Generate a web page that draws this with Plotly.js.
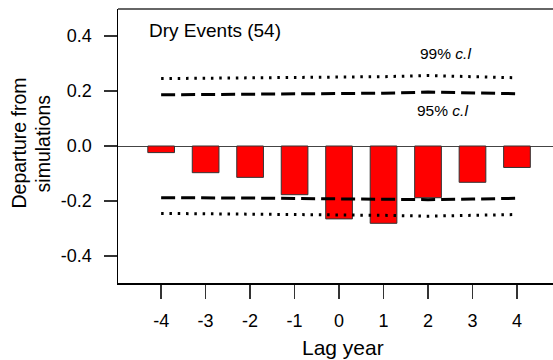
<!DOCTYPE html>
<html>
<head>
<meta charset="utf-8">
<script src="https://cdn.plot.ly/plotly-3.0.1.min.js"></script>
<style>html,body{margin:0;padding:0;background:#fff;}#chart{width:553px;height:360px;}</style>
</head>
<body>
<div id="chart"></div>
<script>
const lags = [-4, -3, -2, -1, 0, 1, 2, 3, 4];
const departure = [-0.024, -0.097, -0.114, -0.177, -0.265, -0.281, -0.188, -0.132, -0.078];
const upper99 = [0.245, 0.246, 0.247, 0.250, 0.250, 0.252, 0.256, 0.252, 0.248];
const upper95 = [0.186, 0.187, 0.188, 0.189, 0.190, 0.192, 0.196, 0.193, 0.190];
const lower95 = [-0.188, -0.188, -0.189, -0.191, -0.193, -0.194, -0.195, -0.193, -0.190];
const lower99 = [-0.245, -0.246, -0.247, -0.248, -0.250, -0.252, -0.255, -0.252, -0.249];
const xTickLabels = ['-4', '-3', '-2', '-1', '0', '1', '2', '3', '4'];
const yTickVals = [-0.4, -0.2, 0.0, 0.2, 0.4];
const yTickLabels = ['-0.4', '-0.2', '0.0', '0.2', '0.4'];

const FONT = 'Liberation Sans, Arial, sans-serif';
const dotted = {color: '#000', width: 3, dash: '2.5px,5.8px'};
const dashed = {color: '#000', width: 3, dash: '14px,6px'};

const traces = [
  {type: 'bar', x: lags, y: departure, width: 0.6,
   marker: {color: '#ff0000', line: {color: '#333', width: 1}}, hoverinfo: 'skip'},
  {type: 'scatter', mode: 'lines', x: lags, y: upper99, line: dotted},
  {type: 'scatter', mode: 'lines', x: lags, y: upper95, line: dashed},
  {type: 'scatter', mode: 'lines', x: lags, y: lower95, line: dashed},
  {type: 'scatter', mode: 'lines', x: lags, y: lower99, line: dotted}
];

const layout = {
  width: 553, height: 360,
  margin: {l: 118, r: 0, t: 9, b: 77},
  paper_bgcolor: '#fff', plot_bgcolor: '#fff',
  showlegend: false,
  font: {family: FONT, color: '#000', size: 18},
  xaxis: {
    range: [-4.97, 4.81], tickvals: lags, ticktext: xTickLabels,
    showgrid: false, zeroline: false, showline: true, linecolor: '#000', linewidth: 1.5,
    ticks: 'outside', ticklen: 14, tickwidth: 1.5, tickcolor: '#333',
    ticklabelstandoff: 7,
    tickfont: {family: FONT, size: 18, color: '#000'}
  },
  yaxis: {
    range: [-0.498, 0.498], tickvals: yTickVals, ticktext: yTickLabels,
    showgrid: false, zeroline: true, zerolinecolor: '#444', zerolinewidth: 1,
    showline: true, linecolor: '#000', linewidth: 1.5,
    ticks: 'outside', ticklen: 13, tickwidth: 1.5, tickcolor: '#333',
    ticklabelstandoff: 8,
    tickfont: {family: FONT, size: 18, color: '#000'}
  },
  shapes: [
    {type: 'line', xref: 'paper', yref: 'paper', x0: 0, x1: 1, y0: 1, y1: 1,
     line: {color: '#333', width: 1.5}}
  ],
  annotations: [
    {text: 'Dry Events (54)', xref: 'paper', yref: 'paper', x: 0.066, y: 0.92,
     xanchor: 'left', yanchor: 'middle', showarrow: false, font: {family: FONT, size: 19}},
    {text: '99% <i>c.l</i>', xref: 'paper', yref: 'paper', x: 0.754, y: 0.836,
     xanchor: 'center', yanchor: 'middle', showarrow: false, font: {family: FONT, size: 15.5}},
    {text: '95% <i>c.l</i>', xref: 'paper', yref: 'paper', x: 0.745, y: 0.631,
     xanchor: 'center', yanchor: 'middle', showarrow: false, font: {family: FONT, size: 15.5}},
    {text: 'Lag year', xref: 'paper', yref: 'paper', x: 0.517, y: -0.237,
     xanchor: 'center', yanchor: 'middle', showarrow: false, font: {family: FONT, size: 21}},
    {text: 'Departure from', xref: 'paper', yref: 'paper', x: -0.227, y: 0.51,
     xanchor: 'center', yanchor: 'middle', textangle: -90, showarrow: false, font: {family: FONT, size: 19.5}},
    {text: 'simulations', xref: 'paper', yref: 'paper', x: -0.172, y: 0.51,
     xanchor: 'center', yanchor: 'middle', textangle: -90, showarrow: false, font: {family: FONT, size: 19.5}}
  ]
};

Plotly.newPlot('chart', traces, layout, {displayModeBar: false, staticPlot: true});
</script>
</body>
</html>
